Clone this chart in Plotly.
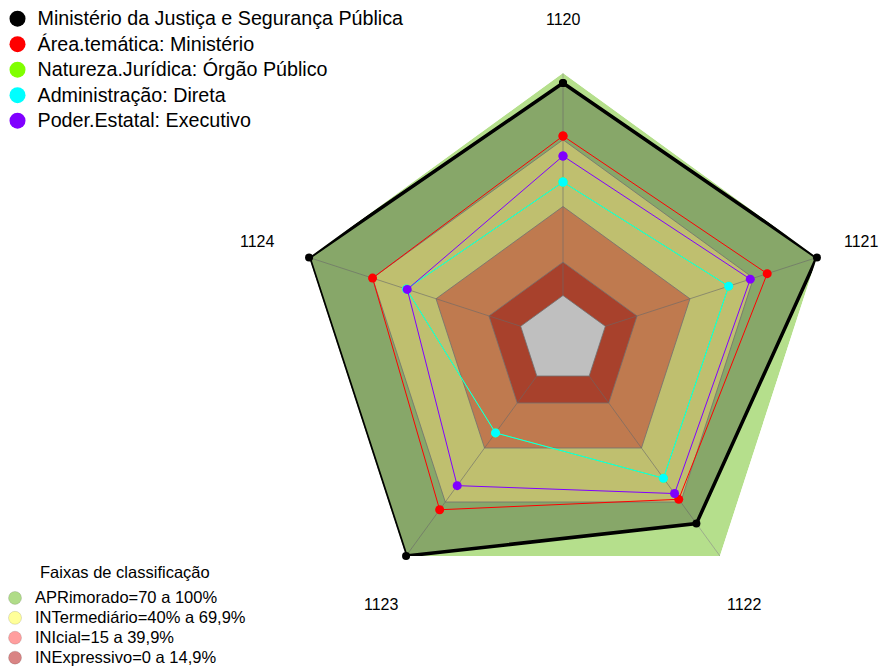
import math

import plotly.graph_objects as go

# eixos (indicadores)
categories = ["1120", "1121", "1122", "1123", "1124"]

# series
ministerio = [95.5, 100, 82, 100, 100]
area_tematica = [71.7, 76.5, 68.5, 74.3, 70]
natureza_juridica = [51, 58.3, 56.8, 31.6, 54]
administracao = [51, 58.3, 56.8, 31.6, 54]
poder_estatal = [62.7, 68.5, 65.3, 60.9, 53.6]

series_names = [
    "Ministério da Justiça e Segurança Pública",
    "Área.temática: Ministério",
    "Natureza.Jurídica: Órgão Público",
    "Administração: Direta",
    "Poder.Estatal: Executivo",
]
series_colors = ["#000000", "#ff0000", "#80ff00", "#00ffff", "#8000ff"]

# faixas de classificacao
band_limits = [100, 70, 40, 15, 0]
band_fills = ["#b5df8c", "#ffff95", "#ffa36a", "#e0573b", "#ffffff"]
band_names = [
    "APRimorado=70 a 100%",
    "INTermediário=40% a 69,9%",
    "INIcial=15 a 39,9%",
    "INExpressivo=0 a 14,9%",
]
band_legend_colors = ["#b0dc88", "#ffff99", "#ff9e9e", "#d98484"]


def closed(values):
    return list(values) + [values[0]]


def sized(text, px):
    return f'<span style="font-size:{px}px">{text}</span>'


theta = closed(categories)
fig = go.Figure()

# bands
for lim, col in zip(band_limits, band_fills):
    fig.add_trace(
        go.Scatterpolar(
            r=[lim] * len(theta),
            theta=theta,
            mode="lines",
            fill="toself",
            fillcolor=col,
            line=dict(color="rgba(150,150,150,0.8)" if lim < 100 else col, width=1 if lim < 100 else 0),
            showlegend=False,
            hoverinfo="skip",
        )
    )

# spokes
spoke_r, spoke_t = [], []
for c in categories:
    spoke_r += [band_limits[-1], band_limits[0], None]
    spoke_t += [c, c, None]
fig.add_trace(
    go.Scatterpolar(
        r=spoke_r,
        theta=spoke_t,
        mode="lines",
        line=dict(color="rgba(140,140,140,0.6)", width=1),
        showlegend=False,
        hoverinfo="skip",
    )
)

# ministerio (filled)
fig.add_trace(
    go.Scatterpolar(
        r=closed(ministerio),
        theta=theta,
        mode="lines+markers",
        fill="toself",
        fillcolor="rgba(0,0,0,0.25)",
        line=dict(color="#000000", width=3.5),
        marker=dict(color="#000000", size=8),
        showlegend=False,
    )
)

others = [area_tematica, natureza_juridica, administracao, poder_estatal]
for vals, col in zip(others, series_colors[1:]):
    fig.add_trace(
        go.Scatterpolar(
            r=closed(vals),
            theta=theta,
            mode="lines+markers",
            line=dict(color=col, width=1),
            marker=dict(color=col, size=9),
            showlegend=False,
        )
    )

# legend proxies
for name, col in zip(series_names, series_colors):
    fig.add_trace(
        go.Scatterpolar(
            r=[None], theta=[None], mode="markers", name=sized(name, 19.7),
            marker=dict(color=col, size=16), legend="legend",
        )
    )
for name, col in zip(band_names, band_legend_colors):
    fig.add_trace(
        go.Scatterpolar(
            r=[None], theta=[None], mode="markers", name=sized(name, 16.5),
            marker=dict(color=col, size=13, line=dict(color="rgba(0,0,0,0.12)", width=1)),
            legend="legend2",
        )
    )

W, H = 889, 670
# page has an 8px body margin, so centre is shifted accordingly
cx, cy, R = 555, 332, 267

# axis labels placed on a circle around the chart, like the original
label_r = 321
label_nudge = [(0, 0), (-7, 1), (-7, 5), (7, 5), (0, 1)]  # px, (right, down)
annotations = []
for i, cat in enumerate(categories):
    ang = math.radians(90 - 360 * i / len(categories))
    dx, dy = label_nudge[i]
    annotations.append(
        dict(
            text=cat,
            x=(cx + label_r * math.cos(ang) + dx) / W,
            y=(H - cy + label_r * math.sin(ang) - dy) / H,
            xref="paper", yref="paper",
            xanchor="center", yanchor="middle",
            showarrow=False,
            font=dict(size=16),
        )
    )
annotations.append(
    dict(
        text="Faixas de classificação",
        x=116.5 / W, y=(H - 564) / H,
        xref="paper", yref="paper",
        xanchor="center", yanchor="middle",
        showarrow=False,
        font=dict(size=16.5),
    )
)

fig.update_layout(
    width=W,
    height=H,
    margin=dict(l=0, r=0, t=0, b=0, autoexpand=False),
    paper_bgcolor="white",
    font=dict(family="Liberation Sans, Arial, sans-serif", color="black"),
    annotations=annotations,
    polar=dict(
        domain=dict(
            x=[(cx - R) / W, (cx + R) / W],
            y=[(H - cy - R) / H, (H - cy + R) / H],
        ),
        bgcolor="white",
        gridshape="linear",
        radialaxis=dict(range=[-20, 100], showticklabels=False, showline=False, showgrid=False, ticks=""),
        angularaxis=dict(
            direction="clockwise",
            rotation=90,
            showline=False,
            showgrid=False,
            showticklabels=False,
            ticks="",
        ),
    ),
    legend=dict(
        x=-0.0118, y=1.0105, xanchor="left", yanchor="top",
        font=dict(size=17.3), bgcolor="rgba(0,0,0,0)", tracegroupgap=0,
    ),
    legend2=dict(
        x=-0.0146, y=0.0075, xanchor="left", yanchor="bottom",
        font=dict(size=13), bgcolor="rgba(0,0,0,0)", tracegroupgap=0,
    ),
)

fig.write_html("out.html")
